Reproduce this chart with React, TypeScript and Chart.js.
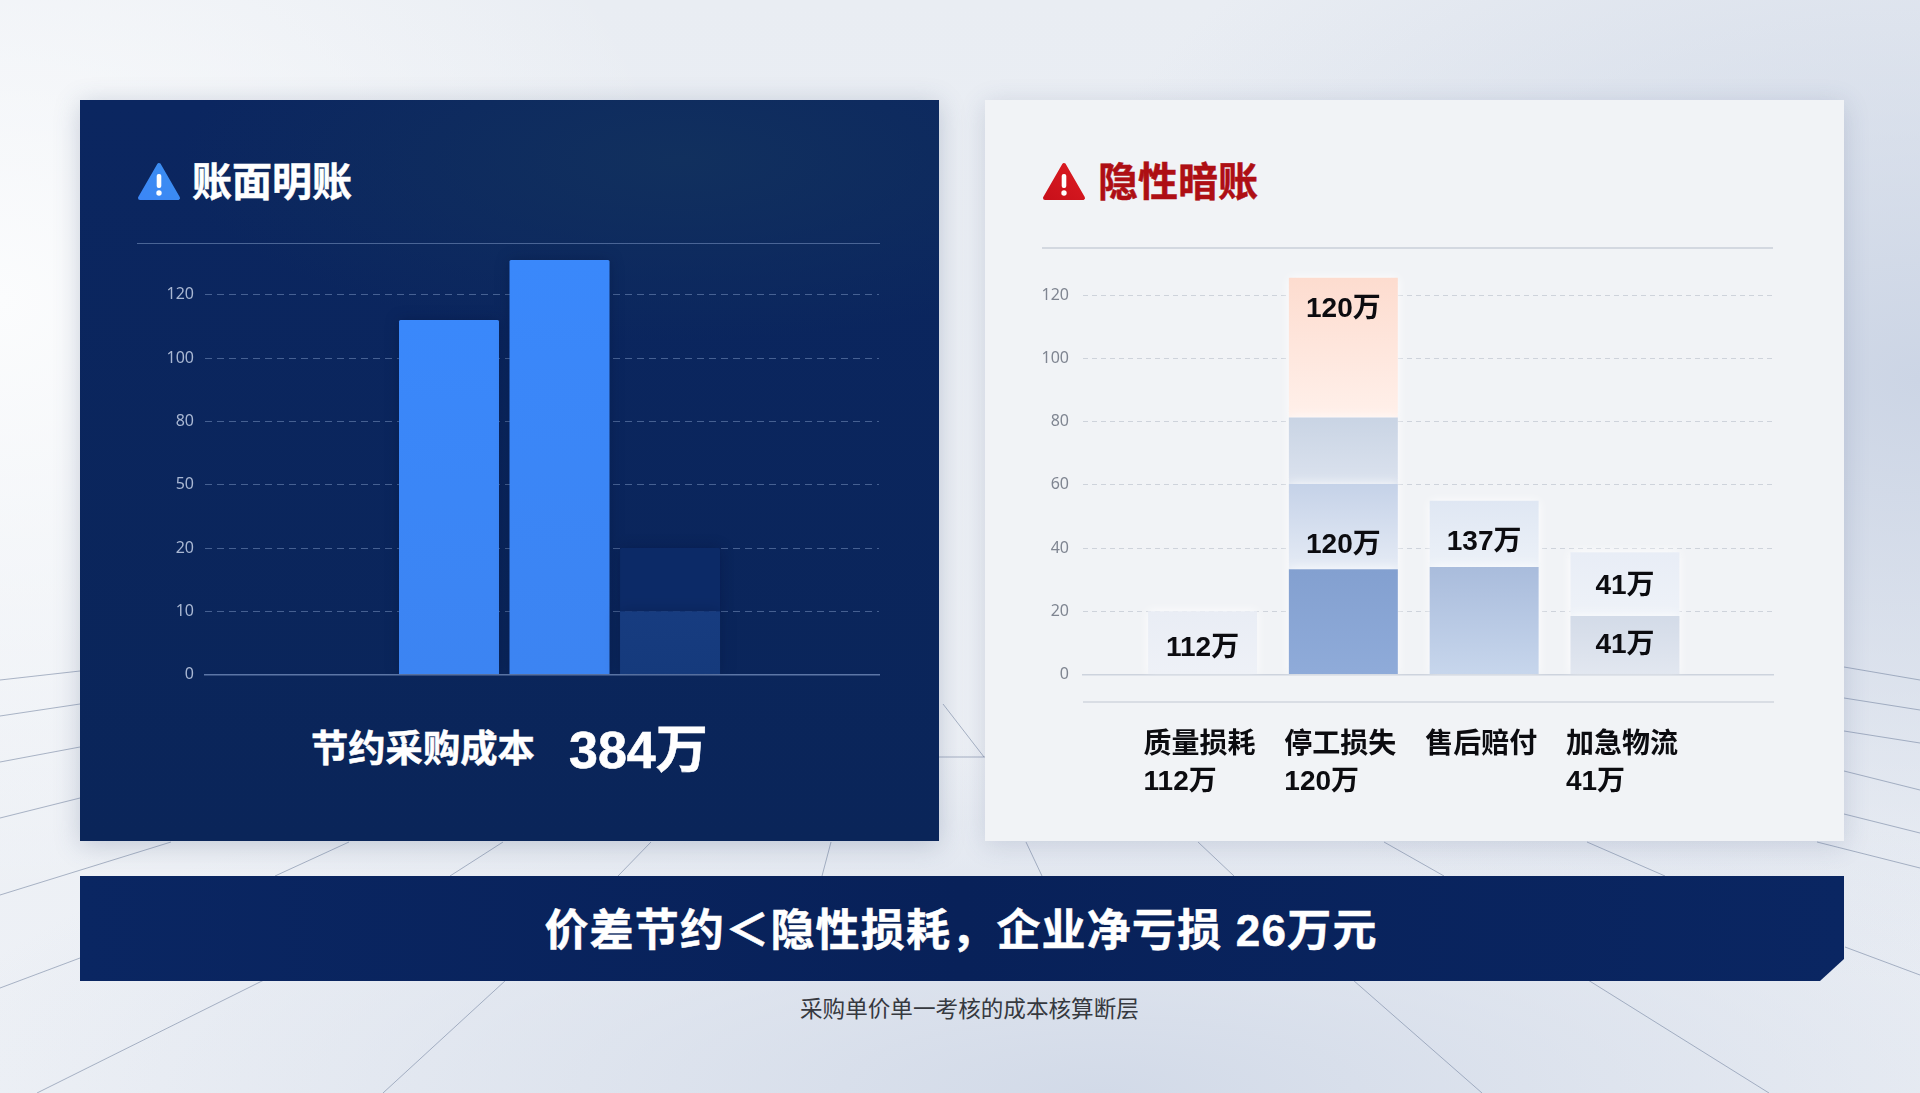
import React, { useEffect, useRef } from "react";
import { Chart, LinearScale, registerables } from "chart.js";

Chart.register(...registerables);

// ---------- data ----------
const ledgerTicks = [0, 10, 20, 50, 80, 100, 120];
const ledgerSolid = [112, 131, 10];
const ledgerFaint = [0, 0, 10];

const hiddenTickStep = 20;
const hiddenCategories = ["质量损耗", "停工损失", "售后赔付", "加急物流"];
const hiddenCategoryValues = ["112万", "120万", "", "41万"];
const hiddenSeg1 = [20, 33.3, 34, 18.5];
const hiddenSeg2 = [0, 27, 21, 20.2];
const hiddenSeg3 = [0, 21, 0, 0];
const hiddenSeg4 = [0, 44.2, 0, 0];

const hiddenLabelText = ["112万", "120万", "120万", "137万", "41万", "41万"];
const hiddenLabelCat = [0, 1, 1, 2, 3, 3];
const hiddenLabelLevel = [8.2, 115.6, 41, 42, 27.8, 9.4];

const CJK = '"Liberation Sans", "Noto Sans CJK SC", sans-serif';

// axis whose equally spaced ticks carry the uneven labels of the reference
class SteppedScale extends LinearScale {
  static id = "stepped";
  buildTicks() {
    return ledgerTicks.map((value) => ({ value }));
  }
  getPixelForValue(v: number) {
    const t = ledgerTicks;
    let slot = 0;
    if (v >= t[t.length - 1]) slot = t.length - 1 + (v - t[t.length - 1]) / 20;
    else
      for (let i = 0; i < t.length - 1; i++)
        if (v >= t[i] && v <= t[i + 1]) {
          slot = i + (v - t[i]) / (t[i + 1] - t[i]);
          break;
        }
    return this.getPixelForDecimal(slot / t.length);
  }
}
Chart.register(SteppedScale as any);

const vGrad = (ctx: any, top: string, bottom: string, lo: number, hi: number) => {
  const chart = ctx.chart;
  if (!chart.chartArea) return top;
  const y = chart.scales.y;
  const g = chart.ctx.createLinearGradient(0, y.getPixelForValue(hi), 0, y.getPixelForValue(lo));
  g.addColorStop(0, top);
  g.addColorStop(1, bottom);
  return g;
};

const barShadow = (color: string, blur: number) => ({
  id: "barShadow",
  beforeDatasetsDraw(chart: any) {
    chart.ctx.save();
    chart.ctx.shadowColor = color;
    chart.ctx.shadowBlur = blur;
  },
  afterDatasetsDraw(chart: any) {
    chart.ctx.restore();
  },
});

const fitY = (width: number) => (s: any) => {
  s.width = width;
  s.paddingTop = 0;
  s.paddingBottom = 0;
};
const fitX = (s: any) => {
  s.height = 0;
  s.paddingLeft = 0;
  s.paddingRight = 0;
};

function LedgerChart() {
  const ref = useRef<HTMLCanvasElement>(null);
  useEffect(() => {
    const xy = (arr: number[]) => arr.map((y, x) => ({ x, y }));
    const chart = new Chart(ref.current!, {
      type: "bar",
      data: {
        datasets: [
          {
            data: xy(ledgerSolid),
            backgroundColor: (c: any) =>
              c.dataIndex === 2
                ? vGrad(c, "#173c80", "#153a7c", 0, 10)
                : vGrad(c, "#3a88fb", "#3c84f2", 0, ledgerSolid[c.dataIndex]),
          },
          { data: xy(ledgerFaint), backgroundColor: "#0c2a67" },
        ] as any,
      },
      options: {
        animation: false,
        responsive: false,
        events: [],
        layout: { padding: { top: 6.5, right: 11, bottom: 10.4, left: 0 } },
        plugins: { legend: { display: false }, tooltip: { enabled: false } },
        datasets: { bar: { categoryPercentage: 1, barPercentage: 0.905, borderRadius: 1.5 } },
        scales: {
          x: {
            type: "linear",
            offset: false,
            stacked: true,
            min: -2.208,
            max: 3.891,
            grid: { display: false },
            ticks: { display: false, stepSize: 1, includeBounds: false },
            border: { display: true, color: "#5c76a6", width: 1.5 },
            afterFit: fitX,
          },
          y: {
            type: "stepped",
            stacked: true,
            min: 0,
            max: 140,
            afterFit: fitY(75),
            grid: {
              color: (c: any) => (c.tick && c.tick.value === 0 ? "transparent" : "rgba(130,155,200,0.5)"),
              drawTicks: false,
            },
            border: { display: false, dash: [7, 5] },
            ticks: {
              autoSkip: false,
              padding: 11,
              color: "#a9b7d2",
              font: { family: '"Noto Sans", sans-serif', size: 16 },
              callback: (v: any) => String(v),
            },
          },
        },
      } as any,
      plugins: [barShadow("rgba(2,14,50,0.3)", 14)],
    });
    return () => chart.destroy();
  }, []);
  return <canvas ref={ref} width={760} height={460} style={{ position: "absolute", left: 130, top: 225 }} />;
}

function HiddenChart() {
  const ref = useRef<HTMLCanvasElement>(null);
  useEffect(() => {
    const xy = (arr: number[]) => arr.map((y, x) => ({ x, y }));
    const low = (i: number, n: number) =>
      [hiddenSeg1, hiddenSeg2, hiddenSeg3, hiddenSeg4].slice(0, n).reduce((s, a) => s + a[i], 0);
    const seg = (n: number, tops: string[], bottoms: string[], arr: number[]) => ({
      data: xy(arr),
      backgroundColor: (c: any) =>
        vGrad(c, tops[c.dataIndex], bottoms[c.dataIndex], low(c.dataIndex, n), low(c.dataIndex, n) + arr[c.dataIndex]),
    });
    const labels = {
      id: "labels",
      afterDraw(chart: any) {
        const { ctx, scales } = chart;
        ctx.save();
        ctx.fillStyle = "#0c0c10";
        ctx.textBaseline = "middle";
        ctx.textAlign = "center";
        ctx.font = `700 28px ${CJK}`;
        hiddenLabelText.forEach((t, i) => {
          ctx.fillText(t, scales.x.getPixelForValue(hiddenLabelCat[i]), scales.y.getPixelForValue(hiddenLabelLevel[i]));
        });
        ctx.textAlign = "left";
        hiddenCategories.forEach((c, i) => {
          const w = ctx.measureText(c).width;
          const left = scales.x.getPixelForValue(i) - w / 2 - 3;
          ctx.fillText(c, left, scales.y.bottom + 71);
          if (hiddenCategoryValues[i]) ctx.fillText(hiddenCategoryValues[i], left, scales.y.bottom + 108);
        });
        ctx.restore();
      },
    };
    const chart = new Chart(ref.current!, {
      type: "bar",
      data: {
        datasets: [
          seg(0, ["#e9edf5", "#83a0d0", "#a9bcdc", "#d3dbe8"], ["#eef1f7", "#8fabd9", "#c7d6ec", "#e2e7f0"], hiddenSeg1),
          seg(1, ["#e9edf5", "#c5d2e8", "#dfe7f3", "#e8edf6"], ["#e9edf5", "#e5ebf5", "#ecf1f8", "#eef2f8"], hiddenSeg2),
          seg(2, ["#c9d4e4", "#c9d4e4", "#c9d4e4", "#c9d4e4"], ["#dbe2ee", "#dbe2ee", "#dbe2ee", "#dbe2ee"], hiddenSeg3),
          seg(3, ["#fddccf", "#fddccf", "#fddccf", "#fddccf"], ["#fff0ea", "#fff0ea", "#fff0ea", "#fff0ea"], hiddenSeg4),
        ] as any,
      },
      options: {
        animation: false,
        responsive: false,
        events: [],
        layout: { padding: { top: 8.6, right: 16.5, bottom: 125.4, left: 0 } },
        plugins: { legend: { display: false }, tooltip: { enabled: false } },
        datasets: { bar: { categoryPercentage: 1, barPercentage: 0.774 } },
        scales: {
          x: {
            type: "linear",
            offset: false,
            stacked: true,
            min: -0.849,
            max: 4.055,
            grid: { display: false },
            ticks: { display: false, stepSize: 1, includeBounds: false },
            border: { display: true, color: "#cdd3dd", width: 1.5 },
            afterFit: fitX,
          },
          y: {
            type: "linear",
            stacked: true,
            min: 0,
            max: 130,
            afterFit: fitY(83),
            grid: {
              color: (c: any) => (c.tick && c.tick.value === 0 ? "transparent" : "#ced3db"),
              drawTicks: false,
            },
            border: { display: false, dash: [5, 4] },
            ticks: {
              stepSize: hiddenTickStep,
              includeBounds: false,
              padding: 14,
              color: "#7f8591",
              font: { family: '"Noto Sans", sans-serif', size: 16 },
            },
          },
        },
      } as any,
      plugins: [barShadow("rgba(255,255,255,0.9)", 10), labels],
    });
    return () => chart.destroy();
  }, []);
  return <canvas ref={ref} width={790} height={545} style={{ position: "absolute", left: 1000, top: 255 }} />;
}

const floorLines = [
  [171, 842, 0, 895], [349, 842, 275, 876], [503, 842, 450, 876], [651, 842, 618, 876],
  [831, 842, 822, 876], [1026, 842, 1042, 876], [1198, 842, 1234, 876], [1384, 842, 1444, 876],
  [1587, 842, 1665, 876], [1817, 842, 1920, 868], [264, 980, 37, 1093], [506, 980, 383, 1093],
  [1353, 980, 1482, 1093], [1588, 980, 1769, 1093], [80, 958, 0, 988], [1845, 947, 1920, 975],
  [0, 680, 80, 671], [0, 716, 80, 704], [0, 762, 80, 747], [0, 818, 80, 798],
  [1844, 667, 1920, 680], [1844, 698, 1920, 710], [1844, 731, 1920, 743], [1844, 771, 1920, 790], [1844, 814, 1920, 833],
  [943, 704, 984, 757], [939, 757, 985, 757],
];

const Warn = ({ left, c1, c2 }: { left: number; c1: string; c2: string }) => (
  <svg width={44} height={40} viewBox="0 0 44 40" style={{ position: "absolute", left, top: 162 }}>
    <defs>
      <linearGradient id={"w" + left} x1="0" y1="1" x2="1" y2="0">
        <stop offset="0" stopColor={c1} />
        <stop offset="1" stopColor={c2} />
      </linearGradient>
    </defs>
    <path d="M22 3 L41 36 L3 36 Z" fill={"url(#w" + left + ")"} stroke={"url(#w" + left + ")"} strokeWidth={4} strokeLinejoin="round" />
    <rect x={19.7} y={12} width={4.6} height={14} rx={2} fill="#fff" />
    <circle cx={22} cy={31} r={2.7} fill="#fff" />
  </svg>
);

const text = (s: React.CSSProperties): React.CSSProperties => ({
  position: "absolute",
  fontFamily: CJK,
  whiteSpace: "pre",
  lineHeight: 1,
  ...s,
});

export default function App() {
  return (
    <div
      style={{
        position: "fixed",
        left: 0,
        top: 0,
        width: 1920,
        height: 1093,
        overflow: "hidden",
        background:
          "radial-gradient(700px 600px at 0px 300px, #fbfcfd 0%, rgba(251,252,253,0) 100%), radial-gradient(900px 600px at 1920px 380px, #ccd5e5 0%, rgba(204,213,229,0) 100%), radial-gradient(1200px 350px at 1100px 1093px, #d2dae8 0%, rgba(210,218,232,0) 100%), linear-gradient(180deg,#e9edf3 0%,#eef1f6 100%)",
      }}
    >
      <svg width={1920} height={1093} style={{ position: "absolute", left: 0, top: 0 }}>
        {floorLines.map((l, i) => (
          <line key={i} x1={l[0]} y1={l[1]} x2={l[2]} y2={l[3]} stroke="rgba(110,125,155,0.55)" strokeWidth={1} />
        ))}
      </svg>

      <div
        style={{
          position: "absolute",
          left: 80,
          top: 100,
          width: 859,
          height: 741,
          background:
            "radial-gradient(500px 180px at 600px 60px, #11305e 0%, rgba(17,48,94,0) 100%), linear-gradient(180deg,#0b2660 0%,#0a2559 100%)",
          boxShadow: "0 4px 24px rgba(60,80,120,0.25)",
        }}
      />
      <div
        style={{
          position: "absolute",
          left: 985,
          top: 100,
          width: 859,
          height: 741,
          background: "#f1f3f6",
          boxShadow: "0 4px 24px rgba(60,80,120,0.18)",
        }}
      />

      <Warn left={137} c1="#3b86f6" c2="#3b8ff0" />
      <div style={text({ left: 192, top: 162, fontSize: 40, fontWeight: 700, color: "#fff", WebkitTextStroke: "0.5px #fff" })}>账面明账</div>
      <div style={{ position: "absolute", left: 137, top: 243, width: 743, height: 1, background: "#4a6596" }} />

      <Warn left={1042} c1="#c8101a" c2="#dc1c22" />
      <div style={text({ left: 1098, top: 162, fontSize: 40, fontWeight: 700, color: "#ae0f14", WebkitTextStroke: "0.5px #ae0f14" })}>隐性暗账</div>
      <div style={{ position: "absolute", left: 1042, top: 247, width: 731, height: 1.5, background: "#d3d8e0" }} />
      <div style={{ position: "absolute", left: 1083, top: 701, width: 691, height: 1.5, background: "#d9dde4" }} />

      <LedgerChart />
      <HiddenChart />

      <div style={text({ left: 311, top: 731, fontSize: 37.3, fontWeight: 700, color: "#fff", WebkitTextStroke: "0.5px #fff" })}>节约采购成本</div>
      <div style={text({ left: 569, top: 724, fontSize: 52, fontWeight: 700, color: "#fff", WebkitTextStroke: "0.6px #fff" })}>384万</div>

      <div
        style={{
          position: "absolute",
          left: 80,
          top: 876,
          width: 1764,
          height: 105,
          background: "linear-gradient(90deg,#0a2662 0%,#082159 50%,#0a2662 100%)",
          clipPath: "polygon(0 0, 100% 0, 100% 79%, 1740px 100%, 0 100%)",
        }}
      />
      <div style={text({ left: 961, top: 909, width: 0, fontSize: 44, letterSpacing: 1.2, fontWeight: 700, color: "#fff", WebkitTextStroke: "0.5px #fff", display: "flex", justifyContent: "center" })}>
        价差节约＜隐性损耗，企业净亏损 26万元
      </div>
      <div style={text({ left: 800, top: 999, fontSize: 22.6, color: "#36393f" })}>采购单价单一考核的成本核算断层</div>
    </div>
  );
}
